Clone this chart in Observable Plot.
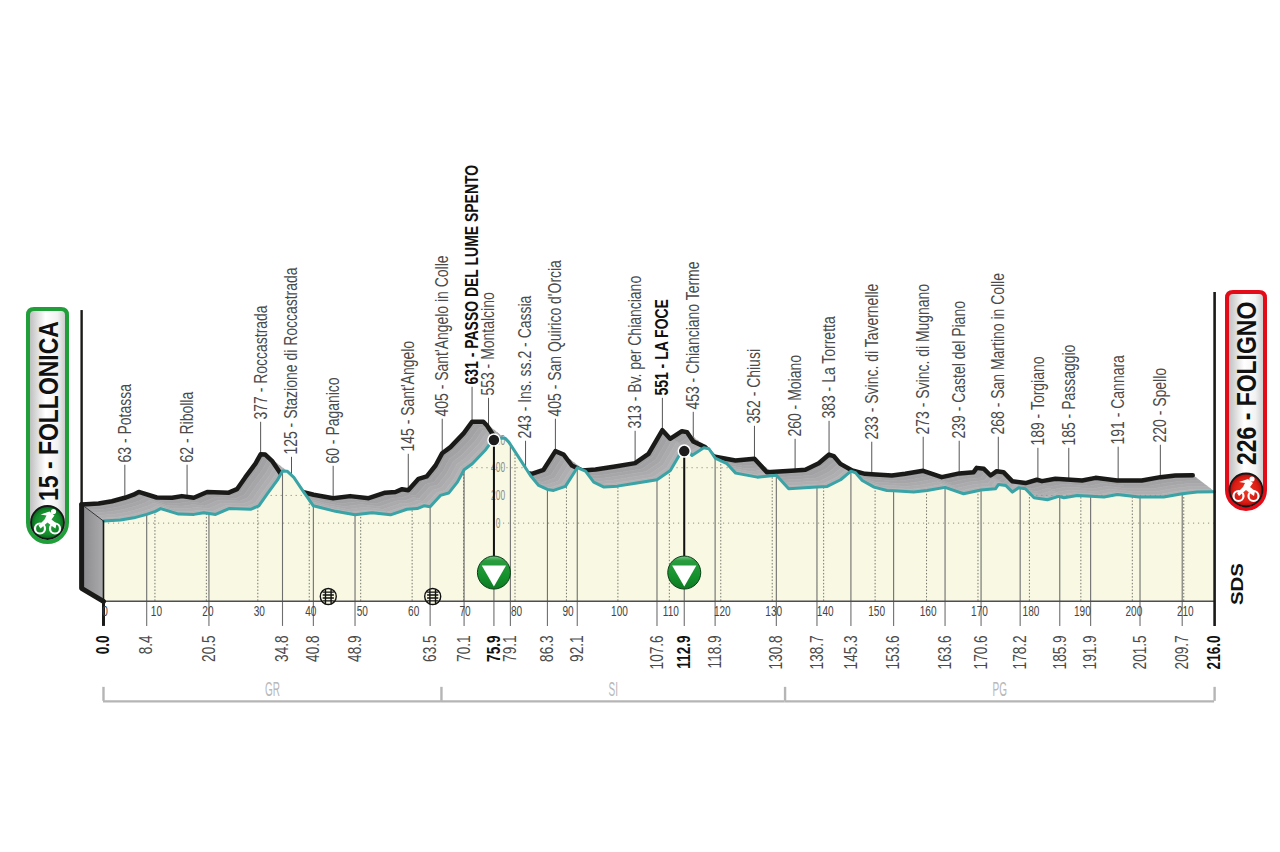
<!DOCTYPE html>
<html><head><meta charset="utf-8">
<style>html,body{margin:0;padding:0;background:#fff}svg{display:block}</style>
<script src="https://cdn.jsdelivr.net/npm/d3@7"></script>
<script src="https://cdn.jsdelivr.net/npm/@observablehq/plot@0.6"></script>
</head><body>
<svg width="0" height="0" style="position:absolute"><defs>
<linearGradient id="gpm" x1="0" y1="0" x2="0" y2="1"><stop offset="0" stop-color="#7cc78a"/><stop offset=".14" stop-color="#2a9c3e"/><stop offset=".6" stop-color="#15922c"/><stop offset="1" stop-color="#0d7a24"/></linearGradient>
<linearGradient id="wall" x1="0" y1="0" x2="1" y2="0"><stop offset="0" stop-color="#8b8b8e"/><stop offset="1" stop-color="#aaaaad"/></linearGradient>
<linearGradient id="flag" x1="0" y1="0" x2="1" y2="0"><stop offset="0" stop-color="#b8b8ba"/><stop offset=".45" stop-color="#fff"/><stop offset=".75" stop-color="#f2f2f2"/><stop offset="1" stop-color="#c4c4c6"/></linearGradient>
<radialGradient id="discG"><stop offset="0" stop-color="#2aa53f"/><stop offset=".75" stop-color="#128a2a"/><stop offset="1" stop-color="#0b5a1c"/></radialGradient>
<radialGradient id="discR"><stop offset="0" stop-color="#ee3a24"/><stop offset=".75" stop-color="#dc1c14"/><stop offset="1" stop-color="#a50f0f"/></radialGradient>
</defs></svg>
<script>
// profile: distance (km) and altitude (m)
const frontKm=[0,3.3,5.9,8.4,10.1,11.1,14.6,17.6,19.5,21.8,24.4,28.6,30.2,31.8,33.8,34.8,35.7,37,38.9,40.8,45.1,48.9,52.2,55.8,59,61,62.3,63.5,65.5,67.1,68.8,70.1,71.7,74.3,75.9,78.1,78.8,80.7,83,84.6,86.3,87.5,89.8,92.1,93.7,95.3,97.3,99.9,103.7,107.6,110.2,112.9,114.4,116.7,117.7,118.9,121.2,122.9,127.1,130.8,133.2,138.7,140.7,143.3,145.3,146.2,147.5,149.8,152.3,153.6,157.5,160.1,163.6,167.2,170.6,173.4,174,175.4,176.7,177.9,179.2,180.9,183.5,185.7,186.7,189.3,194.5,197.1,201.3,206.1,209.7,212.6,216];
const frontEle=[15,22,38,63,85,105,65,63,75,63,105,100,125,210,310,377,375,330,225,125,85,60,75,60,100,105,125,118,200,217,296,385,429,530,612,612,585,477,344,272,243,236,265,400,375,296,260,267,289,313,380,551,489,544,537,470,429,361,332,345,248,260,265,313,375,364,308,260,236,233,224,236,258,212,239,248,279,272,224,255,248,183,169,193,183,200,188,207,188,188,212,224,226];

const placeKm=[8.4,20.5,34.8,40.8,48.9,63.5,70.1,75.9,79.1,86.3,92.1,107.6,112.9,118.9,130.8,138.7,145.3,153.6,163.6,170.6,178.2,185.9,191.9,201.5,209.7];
const placeEle=[63,62,377,125,60,145,405,631,553,243,405,313,551,453,352,260,383,233,273,239,268,189,185,191,220];
const placeName=["Potassa","Ribolla","Roccastrada","Stazione di Roccastrada","Paganico","Sant'Angelo","Sant'Angelo in Colle","PASSO DEL LUME SPENTO","Montalcino","Ins. ss.2 - Cassia","San Quirico d'Orcia","Bv. per Chianciano","LA FOCE","Chianciano Terme","Chiusi","Moiano","La Torretta","Svinc. di Tavernelle","Svinc. di Mugnano","Castel del Piano","San Martino in Colle","Torgiano","Passaggio","Cannara","Spello"];
const placeLevel=[438,438,748,495,430,517,770,1001,921,611,770,683,921,820,719,625,755,604,640,611,640,560,560,568,582];
const summits=["PASSO DEL LUME SPENTO","LA FOCE"];
const summitKm=[75.9,112.9];
const summitDot=[600,520];
const kmMarks=[0,10,20,30,40,50,60,70,80,90,100,110,120,130,140,150,160,170,180,190,200,210];
const altMarks=[0,200,400,600];
const altGrid=[0,200,400];
const railKm=[43.7,64];
const regionNames=["GR","SI","PG"];
const regionStart=[0,65.7,132.5];
const regionEnd=[65.7,132.5,216];
const boldKm=[0,75.9,112.9,216];

const SANS="'Liberation Sans',Arimo,Arial,sans-serif";
const shiftKm=-4.25, shiftM=120, baseEle=-565;
const frontAt=d3.scaleLinear().domain(frontKm).range(frontEle);
const profile=frontKm.map((k,i)=>({km:k,ele:frontEle[i]}));
const back=profile.map(d=>({km:d.km+shiftKm,ele:d.ele+shiftM}));
const places=placeKm.map((k,i)=>({km:k,bx:k+shiftKm,top:frontAt(k)+shiftM,level:placeLevel[i],name:placeName[i],text:placeEle[i]+" - "+placeName[i],bold:summits.includes(placeName[i])}));
const kmLabels=[0,...placeKm,216].map(k=>({km:k,t:k.toFixed(1),bold:boldKm.includes(k)}));

// shaded strips of the ribbon, between back and front profile
const stripN=6,stripCol=d3.scaleLinear().domain([0,stripN-1]).range(["#9e9ea1","#b3b3b5"]);
const strips=d3.range(stripN).map(s=>{
  const t0=s/stripN,t1=(s+1)/stripN;
  const up=profile.map(d=>({km:d.km+shiftKm*(1-t0),ele:d.ele+shiftM*(1-t0)}));
  const dn=profile.map(d=>({km:d.km+shiftKm*(1-t1),ele:d.ele+shiftM*(1-t1)})).reverse();
  return {pts:[...up,...dn],col:stripCol(s)};
});

// grid only under the front profile
function gridSegments(L){
  const out=[];let start=frontEle[0]>=L?frontKm[0]:null;
  for(let i=0;i<frontKm.length-1;i++){
    const a=frontEle[i],b=frontEle[i+1];
    if((a-L)*(b-L)<0){const k=frontKm[i]+(L-a)/(b-a)*(frontKm[i+1]-frontKm[i]);
      if(start===null)start=k;else{out.push({a:start,b:k,L});start=null;}}
  }
  if(start!==null)out.push({a:start,b:216,L});
  return out;
}
const gridRows=altGrid.flatMap(gridSegments);

const railSymbol={draw(c,size){const r=Math.sqrt(size/Math.PI);
  c.moveTo(r,0);c.arc(0,0,r,0,2*Math.PI);
  for(const x of [-r*.35,r*.35]){c.moveTo(x,-r*.92);c.lineTo(x,r*.92);}
  for(const y of [-.5,-.17,.17,.5]){c.moveTo(-r*.7,y*r*1.1);c.lineTo(r*.7,y*r*1.1);}
}};

function flag(g,o){
  const {x,y,w,h,rb,rt,col,label,disc,discY,textY}=o;
  g.append("path").attr("d",`M${x+rt},${y}H${x+w-rt}Q${x+w},${y} ${x+w},${y+rt}V${y+h-rb}A${rb},${rb} 0 0 1 ${x},${y+h-rb}V${y+rt}Q${x},${y} ${x+rt},${y}Z`)
    .attr("fill","url(#flag)").attr("stroke",col).attr("stroke-width",4);
  g.append("text").attr("class","banner").attr("text-anchor","start").attr("transform",`translate(${x+w/2+10},${textY}) rotate(-90)`)
    .attr("font-family",SANS).attr("font-weight",700).attr("font-size",28).attr("fill","#111").text(label);
  const cx=x+w/2,cy=discY;
  g.append("circle").attr("cx",cx).attr("cy",cy).attr("r",16.5).attr("fill",disc).attr("stroke","#161616").attr("stroke-width",1.8);
  for(const dx of [-7.5,7.5]){
    g.append("circle").attr("cx",cx+dx).attr("cy",cy+6).attr("r",5).attr("fill","none").attr("stroke","#fff").attr("stroke-width",2.2);
  }
  g.append("path").attr("d",`M${cx-7},${cy-8}L${cx+2},${cy-11}L${cx+7},${cy-7}L${cx+4},${cy-3}L${cx+9},${cy+1}L${cx+8},${cy+6}L${cx+5},${cy+4}L${cx},${cy}L${cx-7},${cy+6}L${cx-9},${cy+3}L${cx-3},${cy-3}L${cx-1},${cy-7}Z`).attr("fill","#fff");
  g.append("circle").attr("cx",cx+6).attr("cy",cy-11).attr("r",2.6).attr("fill","#fff");
}
function decorations(){
  const g=d3.create("svg:g");
  flag(g,{x:28,y:309,w:39,h:233,rb:19.5,rt:6,col:"#1f9e3a",label:"15 - FOLLONICA",disc:"url(#discG)",discY:522.5,textY:501});
  flag(g,{x:1227,y:292,w:38,h:217,rb:19,rt:6,col:"#e30b17",label:"226 - FOLIGNO",disc:"url(#discR)",discY:490,textY:465});
  g.append("text").attr("text-anchor","start").attr("transform","translate(1242.5,605) rotate(-90)").attr("font-family",SANS).attr("font-weight",700).attr("font-size",17).attr("textLength",42).attr("lengthAdjust","spacingAndGlyphs").attr("fill","#111").text("SDS");
  return g.node();
}

const plot=Plot.plot({
  width:1280,height:852,margin:0,
  x:{domain:[-20.02,228.81],axis:null},
  y:{domain:[-2378.6,3774],axis:null},
  style:{fontFamily:SANS,background:"transparent"},
  marks:[
    // upper ticks, ribbon, back profile
    Plot.ruleX(places,{x:"bx",y1:"top",y2:d=>d.level-20,stroke:"#555",strokeWidth:1}),
    ...strips.map(s=>Plot.line(s.pts,{x:"km",y:"ele",fill:s.col,stroke:s.col,strokeWidth:.6})),
    Plot.line(back,{x:"km",y:"ele",stroke:"#1a1a18",strokeWidth:4.5,strokeLinejoin:"round",strokeLinecap:"round"}),
    // wall at the start
    Plot.line([{k:shiftKm,e:135},{k:0,e:15},{k:0,e:baseEle},{k:shiftKm,e:-471}],{x:"k",y:"e",fill:"url(#wall)",stroke:"none"}),
    // front face
    Plot.areaY(profile,{x:"km",y1:baseEle,y2:"ele",fill:"#f8f8e3"}),
    Plot.ruleY(gridRows,{y:"L",x1:"a",x2:"b",stroke:"#8f8f85",strokeWidth:1,strokeDasharray:"1.2,3.8"}),
    Plot.ruleX(kmMarks.slice(1),{x:k=>k,y1:baseEle,y2:k=>frontAt(k),stroke:"#77776f",strokeWidth:1,strokeDasharray:"1.5,1.8"}),
    Plot.text(altMarks,{x:76.7,y:d=>d,text:d=>String(d),fill:"#8d8d88",fontSize:14,className:"alt"}),
    Plot.ruleX(placeKm,{x:k=>k,y1:-746,y2:k=>frontAt(k),stroke:"#6e6e6e",strokeWidth:1.1}),
    Plot.line(profile,{x:"km",y:"ele",stroke:"#3aa3a6",strokeWidth:3,strokeLinejoin:"round"}),
    // edges and axis
    Plot.ruleY([baseEle],{x1:0,x2:216,stroke:"#4f4f4f",strokeWidth:1.5}),
    Plot.line([{k:shiftKm,e:135},{k:0,e:15}],{x:"k",y:"e",stroke:"#333",strokeWidth:1}),
    Plot.line([{k:shiftKm,e:135},{k:shiftKm,e:-471},{k:0,e:baseEle}],{x:"k",y:"e",stroke:"#1a1a18",strokeWidth:5,strokeLinejoin:"round",strokeLinecap:"round"}),
    Plot.ruleX([0],{y1:15,y2:baseEle,stroke:"#1a1a18",strokeWidth:1.6}),
    Plot.ruleX([0],{y1:baseEle,y2:-746,stroke:"#1a1a18",strokeWidth:3}),
    Plot.ruleX([shiftKm],{y1:135,y2:1535,stroke:"#1a1a18",strokeWidth:2.4}),
    Plot.ruleX([216],{y1:1666,y2:-746,stroke:"#1a1a18",strokeWidth:2.6}),
    // km scale
    Plot.text(kmMarks,{x:k=>k+.3,y:-637,text:k=>String(k),fill:"#444",fontSize:14,className:"scale"}),
    // level crossings
    Plot.dot(railKm,{x:k=>k,y:-530,r:8,symbol:railSymbol,fill:"#f8f8e3",stroke:"#111",strokeWidth:1.4}),
    // summit markers
    Plot.ruleX(summitKm,{x:k=>k,y1:(k,i)=>summitDot[i],y2:-355,stroke:"#111",strokeWidth:2}),
    Plot.dot(summitKm,{x:k=>k,y:(k,i)=>summitDot[i],r:6,fill:"#1c1c1c",stroke:"#fff",strokeWidth:1.5}),
    Plot.dot(summitKm,{x:k=>k,y:-357,r:16.5,fill:"url(#gpm)",stroke:"#0c3d18",strokeWidth:1}),
    Plot.dot(summitKm,{x:k=>k,y:-357,r:9,symbol:"triangle",rotate:180,fill:"#fff"}),
    // place labels
    Plot.text(places.filter(d=>!d.bold),{x:"bx",y:"level",text:"text",rotate:-90,textAnchor:"start",fontSize:18.5,fill:"#4a4a4a",className:"squeeze"}),
    Plot.text(places.filter(d=>d.bold),{x:"bx",y:"level",text:"text",rotate:-90,textAnchor:"start",fontSize:18.5,fontWeight:700,fill:"#111",className:"squeeze"}),
    // km of each place
    Plot.text(kmLabels.filter(d=>!d.bold),{x:"km",y:-811,text:"t",rotate:-90,textAnchor:"end",fontSize:18,fill:"#4a4a4a",className:"squeeze"}),
    Plot.text(kmLabels.filter(d=>d.bold),{x:"km",y:-811,text:"t",rotate:-90,textAnchor:"end",fontSize:18,fontWeight:700,fill:"#111",className:"squeeze"}),
    // regions
    Plot.ruleY(regionNames,{y:-1287,x1:(d,i)=>regionStart[i],x2:(d,i)=>regionEnd[i],stroke:"#b5b5b5",strokeWidth:2.4}),
    Plot.ruleX([...regionStart,216],{x:k=>k,y1:-1287,y2:-1186,stroke:"#b5b5b5",strokeWidth:2.4}),
    Plot.text(regionNames,{x:(d,i)=>(regionStart[i]+regionEnd[i])/2,y:-1200,text:d=>d,fill:"#b8b8b8",fontSize:20,className:"region"}),
    decorations
  ]
});
document.body.appendChild(plot);
// no condensed face is installed: compress the glyphs to the reference's narrow letterforms
function squeeze(sel,ratio){
  plot.querySelectorAll(sel).forEach(t=>{
    t.setAttribute("textLength",t.getComputedTextLength()*ratio);
    t.setAttribute("lengthAdjust","spacingAndGlyphs");
  });
}
squeeze("text.banner",.82);
squeeze(".squeeze text",.755);
squeeze(".scale text",.72);
squeeze(".alt text",.6);
squeeze(".region text",.5);
</script>
</body></html>
